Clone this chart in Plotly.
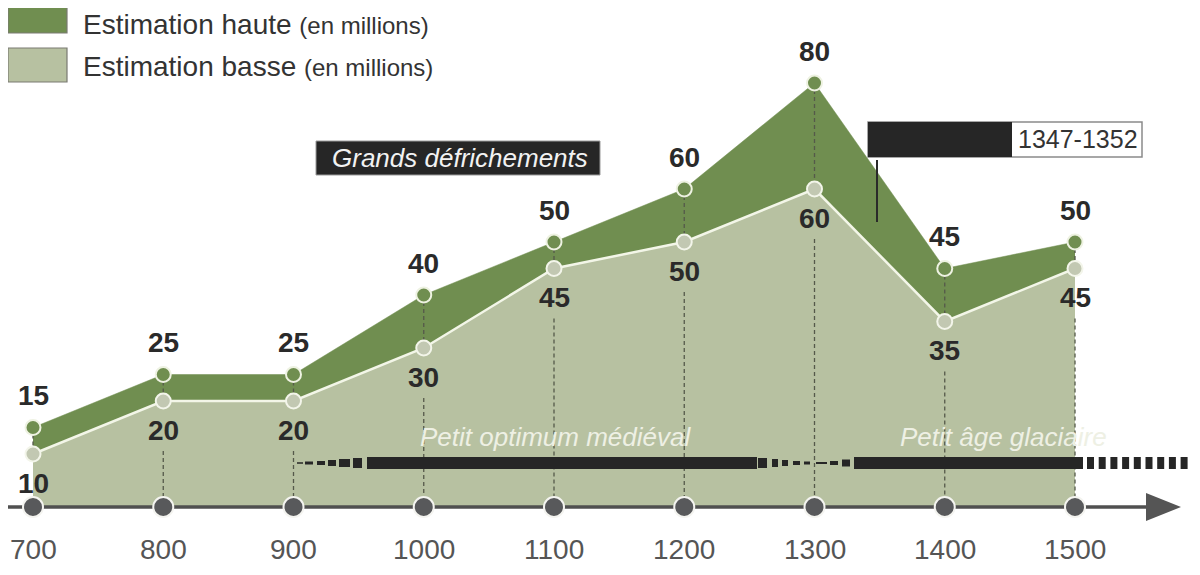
import plotly.graph_objects as go

# ---------------- data ----------------
years = [700, 800, 900, 1000, 1100, 1200, 1300, 1400, 1500]
tick_labels = ["700", "800", "900", "1000", "1100", "1200", "1300", "1400", "1500"]
high = [15, 25, 25, 40, 50, 60, 80, 45, 50]
low = [10, 20, 20, 30, 45, 50, 60, 35, 45]

legend_high = "Estimation haute"
legend_low = "Estimation basse"
legend_unit = "(en millions)"
period_clearing = "Grands défrichements"
period_optimum = "Petit optimum médiéval"
period_ice = "Petit âge glaciaire"
plague_label = "1347-1352"
plague_year = 1348

# ---------------- geometry helpers ----------------
W, H = 1200, 575          # window
OFF = 8                   # page body margin
FW, FH = W - OFF, H - OFF # figure size
X0_PX, X_PER = 33.0, 1.3025   # window pixel of year 700, pixels per year
Y0_PX, Y_PER = 507.0, 5.3     # window pixel of value 0, pixels per unit

def yr(px):
    return years[0] + (px - X0_PX) / X_PER

def val(py):
    return (Y0_PX - py) / Y_PER

def pxp(px):
    return (px - OFF) / FW

def pyp(py):
    return 1 - (py - OFF) / FH

DARK = "#708e50"
LIGHT = "#b7c1a1"
INK = "#262626"
FONT = "Liberation Sans, Arial, sans-serif"

fig = go.Figure()

# filled areas
fig.add_trace(go.Scatter(x=years, y=low, mode="lines", fill="tozeroy",
                         fillcolor=LIGHT, line=dict(width=0, color=LIGHT),
                         hoverinfo="skip", showlegend=False))
fig.add_trace(go.Scatter(x=years, y=high, mode="lines", fill="tonexty",
                         fillcolor=DARK, line=dict(width=0.5, color=DARK),
                         hoverinfo="skip", showlegend=False))

# dashed drop lines
GAP = 50 / Y_PER
dx, dy = [], []
for x, h, l in zip(years, high, low):
    dx += [x, x, None]
    dy += [h, l, None]
    if l - GAP > 0.5:
        dx += [x, x, None]
        dy += [l - GAP, 0, None]
fig.add_trace(go.Scatter(x=dx, y=dy, mode="lines",
                         line=dict(color="#55594a", width=1.3, dash="4px,3px"),
                         hoverinfo="skip", showlegend=False))

# white line along low estimate
fig.add_trace(go.Scatter(x=years, y=low, mode="lines",
                         line=dict(color="#f3f6e8", width=2.5),
                         hoverinfo="skip", showlegend=False))

# time axis
fig.add_trace(go.Scatter(x=[yr(8), yr(1150)], y=[0, 0], mode="lines",
                         line=dict(color="#505050", width=3.5),
                         hoverinfo="skip", showlegend=False))
fig.add_trace(go.Scatter(x=[yr(1146), yr(1181), yr(1146), yr(1146)],
                         y=[val(493), 0, val(521), val(493)],
                         mode="lines", fill="toself", fillcolor="#555555",
                         line=dict(width=0, color="#555555"),
                         hoverinfo="skip", showlegend=False))
fig.add_trace(go.Scatter(x=years, y=[0] * len(years), mode="markers",
                         marker=dict(size=20, color="#58595b",
                                     line=dict(color="#f4f4f0", width=2)),
                         hoverinfo="skip", showlegend=False))

# point markers
fig.add_trace(go.Scatter(x=years, y=high, mode="markers",
                         marker=dict(size=15, color=DARK,
                                     line=dict(color="#eef2e2", width=2)),
                         hoverinfo="skip", showlegend=False))
fig.add_trace(go.Scatter(x=years, y=low, mode="markers",
                         marker=dict(size=15, color="#c2c8b2",
                                     line=dict(color="#f3f5ea", width=2)),
                         hoverinfo="skip", showlegend=False))

shapes = []
annotations = []

# value labels
for x, h, l in zip(years, high, low):
    annotations.append(dict(x=x, y=h, text=str(h), showarrow=False, yshift=32,
                            xanchor="center", yanchor="middle",
                            font=dict(family=FONT, size=28, color="#2a2a2a", weight="bold")))
    annotations.append(dict(x=x, y=l, text=str(l), showarrow=False, yshift=-29,
                            xanchor="center", yanchor="middle",
                            font=dict(family=FONT, size=28, color="#2a2a2a", weight="bold")))

# tick labels
for x, t in zip(years, tick_labels):
    annotations.append(dict(x=x, y=0, text=t, showarrow=False, yshift=-42,
                            xanchor="center", yanchor="middle",
                            font=dict(family=FONT, size=28, color="#555555")))

# period bars (timeline)
BAR_V = val(463)

def bar(px0, px1, w):
    shapes.append(dict(type="line", xref="x", yref="y", x0=yr(px0), x1=yr(px1),
                       y0=BAR_V, y1=BAR_V, line=dict(color=INK, width=w)))

# Petit optimum medieval
s1, t1 = 297, 367
for a, b, w in [(0, 6, 1.5), (8, 16, 3), (20, 28, 4), (31, 39, 6), (42, 53, 8), (56, 65, 10)]:
    bar(s1 + a, s1 + b, w)
e1 = 757
bar(t1, e1, 12)
for a, b, w in [(1, 10, 10), (15, 21, 8), (25, 31, 6), (36, 43, 4), (47, 53, 3), (59, 66, 2)]:
    bar(e1 + a, e1 + b, w)
# Petit age glaciaire
t2, e2 = 854, 1083
for a, b, w in [(-33, -27, 2), (-24, -16, 4), (-12, -4, 7)]:
    bar(t2 + a, t2 + b, w)
bar(t2, e2, 12)
p = e2 + 4
while p < W:
    bar(p, p + 7, 12)
    p += 11.7

annotations.append(dict(x=yr(555), y=val(437), text=period_optimum, showarrow=False,
                        xanchor="center", yanchor="middle",
                        font=dict(family=FONT, size=26, color="#eef0e4", style="italic")))
annotations.append(dict(x=yr(898), y=val(437), text=period_ice, showarrow=False,
                        xanchor="left", yanchor="middle",
                        font=dict(family=FONT, size=26, color="#eef0e4", style="italic")))

# Grands defrichements box
shapes.append(dict(type="rect", xref="paper", yref="paper",
                   x0=pxp(316), x1=pxp(600), y0=pyp(175), y1=pyp(141),
                   fillcolor=INK, line=dict(color="#9a9a9a", width=1)))
annotations.append(dict(xref="paper", yref="paper", x=pxp(460), y=pyp(158),
                        xanchor="center", yanchor="middle",
                        text=period_clearing, showarrow=False,
                        font=dict(family=FONT, size=26, color="#f2f2f2", style="italic")))

# plague box
shapes.append(dict(type="rect", xref="paper", yref="paper",
                   x0=pxp(868), x1=pxp(1142), y0=pyp(157), y1=pyp(122),
                   fillcolor="white", line=dict(color="#8a8a8a", width=1.5)))
shapes.append(dict(type="rect", xref="paper", yref="paper",
                   x0=pxp(868), x1=pxp(1012), y0=pyp(157), y1=pyp(122),
                   fillcolor=INK, line=dict(width=0)))
shapes.append(dict(type="line", xref="x", yref="y", x0=plague_year, x1=plague_year,
                   y0=val(160), y1=val(222), line=dict(color="#2a2a2a", width=2)))
annotations.append(dict(xref="paper", yref="paper", x=pxp(1078), y=pyp(139),
                        xanchor="center", yanchor="middle",
                        text=plague_label, showarrow=False,
                        font=dict(family=FONT, size=25, color="#333333")))

# legend
for (y0, y1, c, label, yc) in [(0, 33, DARK, legend_high, 25), (48, 82, LIGHT, legend_low, 66)]:
    shapes.append(dict(type="rect", xref="paper", yref="paper",
                       x0=pxp(8), x1=pxp(67), y0=pyp(y1), y1=pyp(y0),
                       fillcolor=c, line=dict(color="#7a7a72", width=1.2)))
    annotations.append(dict(xref="paper", yref="paper", x=pxp(81), y=pyp(yc),
                            xanchor="left", yanchor="middle", showarrow=False,
                            text=f"{label} <span style='font-size:24px'>{legend_unit}</span>",
                            font=dict(family=FONT, size=28, color="#333333")))

fig.update_layout(
    width=FW, height=FH,
    margin=dict(l=0, r=0, t=0, b=0),
    paper_bgcolor="white", plot_bgcolor="white",
    xaxis=dict(range=[yr(OFF), yr(W)], visible=False, fixedrange=True),
    yaxis=dict(range=[val(H), val(OFF)], visible=False, fixedrange=True),
    shapes=shapes, annotations=annotations,
    showlegend=False, hovermode=False,
)

fig.write_html("out.html")
